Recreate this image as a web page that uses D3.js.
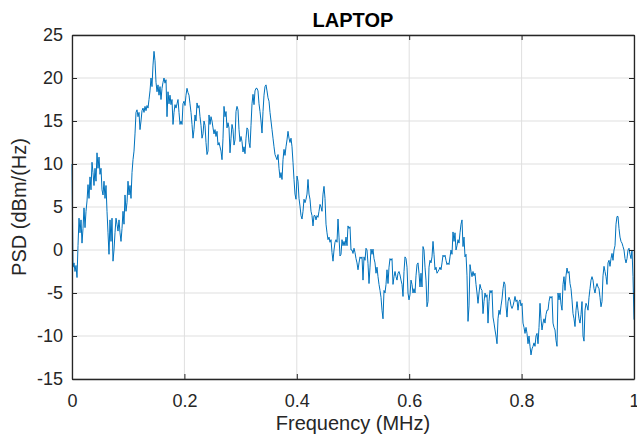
<!DOCTYPE html>
<html>
<head>
<meta charset="utf-8">
<script src="https://cdn.jsdelivr.net/npm/d3@7"></script>
<style>
  html, body { margin: 0; padding: 0; background: #fff; }
  svg { display: block; font-family: "Liberation Sans", Arial, sans-serif; }
</style>
</head>
<body>
<div id="chart"></div>
<script>
// Spectrum of the LAPTOP capture, evenly spaced bins from 0 to 1 MHz
const FREQ_START = 0;
const FREQ_END = 1;

const psd = [
  // 0 – 0.121
  10.0, -2.0, -1.5, -2.5, -1.8, -3.2, 0.5, 3.7, 2.0, 3.5, 0.8, 2.5, 4.9, 2.6, 4.5, 5.7, 7.6, 6.0, 8.5, 7.0,
  10.2, 9.0, 7.5, 9.5, 8.0, 11.3, 9.5, 10.8, 8.8, 9.5, 7.0, 6.4, 8.0, 6.0, 7.5, 4.5, 2.0, -0.5, 3.5, 1.0,
  3.7, -1.3, 0.0, 2.0, 3.7, 3.0, 2.2, 3.5, 2.0, 1.0, 2.5, 4.5, 3.0, 6.4, 4.5, 5.5, 8.0, 6.4, 7.5, 6.0,
  9.0, 10.5, 11.5, 13.5, 16.0, 16.3, 15.5, 16.0, 14.0,
  // 0.123 – 0.246
  15.0, 16.2, 16.5, 16.0, 16.7, 16.2, 16.8, 16.5, 17.5, 18.5, 20.0, 19.0, 21.5, 23.1, 22.0, 19.5, 18.4, 19.2, 18.0, 19.0,
  17.5, 18.8, 19.5, 20.0, 19.4, 19.8, 15.5, 18.4, 17.0, 18.0, 16.9, 17.5, 14.6, 16.0, 16.9, 16.5, 17.0, 17.5, 16.0, 14.6,
  15.0, 14.6, 17.0, 17.3, 16.8, 18.0, 18.8, 18.3, 18.0, 17.0, 16.0, 14.6, 13.0, 14.0, 15.7, 15.0, 17.1, 16.5, 16.8, 15.5,
  14.5, 13.0, 13.5, 15.0, 14.5, 12.5, 11.1, 11.5, 15.7, 14.6,
  // 0.247 – 0.370
  15.5, 15.0, 14.2, 13.5, 14.0, 13.2, 13.8, 12.2, 12.5, 12.0, 11.5, 10.5, 13.0, 16.7, 15.5, 16.1, 14.2, 14.8, 14.2, 11.3,
  13.0, 14.6, 14.0, 12.2, 12.8, 16.1, 16.7, 16.3, 14.0, 12.6, 13.2, 12.6, 11.4, 12.0, 11.2, 13.0, 14.2, 14.0, 12.5, 11.9,
  14.5, 17.0, 18.1, 16.9, 18.5, 18.8, 18.8, 18.5, 17.0, 16.1, 15.0, 13.6, 16.1, 18.0, 19.0, 19.2, 18.5, 17.7, 17.3, 16.0,
  15.0, 14.0, 13.0, 12.0, 11.1, 10.8, 10.5, 11.1, 9.5, 8.4,
  // 0.372 – 0.495
  9.0, 8.2, 10.5, 11.7, 11.0, 12.0, 12.8, 13.8, 13.0, 12.5, 13.0, 12.0, 10.2, 8.2, 6.5, 5.9, 8.6, 8.0, 6.0, 5.1,
  4.0, 3.6, 4.5, 5.9, 5.5, 5.9, 6.5, 8.2, 6.5, 5.9, 4.5, 4.0, 2.8, 4.0, 4.0, 3.5, 4.0, 3.8, 4.5, 5.3,
  5.0, 4.5, 6.5, 7.4, 6.0, 3.0, 2.0, 1.2, 1.5, 0.9, 1.2, -0.3, -1.3, 0.0, 0.9, 1.2, 0.9, 3.6, 1.5, -0.7,
  -0.5, 1.2, 0.5, 1.0, 0.5, 1.5, 0.5, 2.8, 2.5, 2.7,
  // 0.496 – 0.619
  0.0, 0.0, -0.4, 0.2, -0.3, -1.0, -1.5, -2.3, -1.5, -0.8, -1.0, -0.8, -3.5, -0.8, -1.2, 0.2, 0.0, -1.6, -3.9, -2.0,
  0.1, -0.5, 0.1, -1.0, -1.5, -2.7, -2.0, -3.1, -4.0, -4.7, -5.5, -7.0, -8.0, -4.7, -5.0, -4.0, -2.3, -3.9, -2.0, -1.0,
  -1.2, -1.0, -4.0, -3.1, -2.5, -3.1, -3.5, -2.7, -2.5, -2.9, -3.5, -4.0, -5.4, -2.5, -0.8, -1.0, -2.0, -5.0, -5.8, -5.2,
  -3.5, -4.0, -5.0, -4.5, -5.0, -3.0, -1.7, -1.5, -2.7, -4.3,
  // 0.621 – 0.744
  -2.7, -4.3, 0.4, 0.0, -2.0, -3.5, -6.6, -6.0, -2.0, -1.2, -1.5, -0.8, 1.0, -0.5, -2.3, -2.0, -2.7, -2.5, -2.3, -2.0,
  -2.3, -1.5, -0.6, -0.8, -0.6, -1.2, -1.7, -1.5, -1.7, -0.8, 0.0, -0.5, 2.1, 1.0, 2.0, 0.0, 0.5, 1.2, 0.8, 2.0,
  3.0, 3.5, 0.4, 1.5, -0.8, -0.5, -3.0, -8.3, -6.5, -1.7, -2.5, -3.1, -2.5, -3.0, -2.7, -4.0, -5.0, -6.2, -5.0, -4.0,
  -4.5, -4.7, -7.4, -6.0, -5.0, -5.5, -5.2, -8.5, -6.0, -4.7,
  // 0.746 – 0.868
  -5.0, -4.7, -7.8, -8.5, -9.3, -10.0, -10.9, -8.0, -7.0, -7.5, -6.5, -5.7, -4.5, -3.7, -4.0, -6.5, -7.8, -6.0, -5.5, -5.8,
  -6.5, -6.8, -6.5, -6.0, -5.4, -6.0, -5.8, -7.0, -6.0, -5.8, -6.5, -6.2, -8.5, -9.0, -9.7, -9.0, -9.7, -10.9, -10.0, -11.2,
  -12.2, -11.5, -11.2, -10.8, -11.2, -10.0, -9.7, -10.9, -9.0, -6.2, -8.0, -9.3, -8.5, -8.0, -8.5, -7.5, -7.0, -7.0, -6.0, -5.4,
  -5.6, -5.4, -8.5, -9.0, -9.3, -10.5, -11.2, -5.0, -5.8, -5.0,
  // 0.870 – 1
  -6.3, -7.0, -4.0, -3.1, -4.7, -3.0, -2.1, -2.7, -2.5, -3.9, -4.5, -5.8, -7.4, -8.0, -8.9, -7.0, -6.0, -7.0, -8.0, -8.5,
  -7.5, -6.0, -10.0, -10.6, -7.0, -6.2, -6.5, -7.0, -5.5, -4.5, -3.5, -3.1, -3.5, -4.5, -5.0, -4.3, -3.9, -4.3, -4.5, -5.5,
  -6.6, -6.0, -3.0, -1.9, -2.5, -3.1, -4.0, -1.5, -1.2, -1.9, -1.0, -0.4, -1.2, 0.0, 0.5, 3.0, 3.9, 3.9, 2.5, 1.5,
  1.0, 0.8, 0.4, 0.0, -1.0, -1.5, -1.0, 0.0, 0.2, -0.5, -1.0, 0.0, -3.1, -8.1
];

const xTicks = [0, 0.2, 0.4, 0.6, 0.8, 1];
const yTicks = [-15, -10, -5, 0, 5, 10, 15, 20, 25];

const freq = d3.range(psd.length).map(i => FREQ_START + (FREQ_END - FREQ_START) * i / (psd.length - 1));
const data = freq.map((f, i) => ({ f, v: psd[i] }));

const width = 637, height = 438;
const margin = { top: 35, right: 3, bottom: 59, left: 72 };
const axisColor = '#262626';

const svg = d3.select('#chart').append('svg')
  .attr('width', width)
  .attr('height', height);

const x = d3.scaleLinear().domain([FREQ_START, FREQ_END]).range([margin.left, width - margin.right]);
const y = d3.scaleLinear().domain([-15, 25]).range([height - margin.bottom, margin.top]);

// grid
svg.append('g')
  .selectAll('line')
  .data(xTicks)
  .join('line')
  .attr('x1', d => x(d)).attr('x2', d => x(d))
  .attr('y1', y.range()[1]).attr('y2', y.range()[0])
  .attr('stroke', '#dfdfdf')
  .attr('stroke-width', 1);

svg.append('g')
  .selectAll('line')
  .data(yTicks)
  .join('line')
  .attr('x1', x.range()[0]).attr('x2', x.range()[1])
  .attr('y1', d => y(d)).attr('y2', d => y(d))
  .attr('stroke', '#dfdfdf')
  .attr('stroke-width', 1);

// psd trace
const line = d3.line()
  .x(d => x(d.f))
  .y(d => y(d.v));

svg.append('path')
  .datum(data)
  .attr('fill', 'none')
  .attr('stroke', '#0072BD')
  .attr('stroke-width', 1)
  .attr('stroke-linejoin', 'round')
  .attr('d', line);

// axes (box with inward ticks), plain hyphen for negatives like matlab
const tickLen = 5;
const fontSize = 18;
const plain = d => String(d);

const axBottom = svg.append('g')
  .attr('transform', `translate(0,${y.range()[0]})`)
  .call(d3.axisBottom(x).tickValues(xTicks).tickSizeInner(-tickLen).tickSizeOuter(0).tickPadding(15).tickFormat(plain));
const axLeft = svg.append('g')
  .attr('transform', `translate(${x.range()[0]},0)`)
  .call(d3.axisLeft(y).tickValues(yTicks).tickSizeInner(-tickLen).tickSizeOuter(0).tickPadding(9).tickFormat(plain));
const axTop = svg.append('g')
  .attr('transform', `translate(0,${y.range()[1]})`)
  .call(d3.axisTop(x).tickValues(xTicks).tickSizeInner(-tickLen).tickSizeOuter(0).tickFormat(''));
const axRight = svg.append('g')
  .attr('transform', `translate(${x.range()[1]},0)`)
  .call(d3.axisRight(y).tickValues(yTicks).tickSizeInner(-tickLen).tickSizeOuter(0).tickFormat(''));

[axBottom, axLeft, axTop, axRight].forEach(g => {
  g.select('.domain').attr('stroke', axisColor).attr('stroke-width', 1.3);
  g.selectAll('.tick line').attr('stroke', axisColor).attr('stroke-width', 1);
  g.selectAll('.tick text')
    .attr('fill', axisColor)
    .style('font-family', '"Liberation Sans", Arial, sans-serif')
    .style('font-size', fontSize + 'px');
});

// labels
svg.append('text')
  .attr('x', (x.range()[0] + x.range()[1]) / 2)
  .attr('y', 27)
  .attr('text-anchor', 'middle')
  .attr('fill', '#000')
  .style('font-weight', 'bold')
  .style('font-size', '20px')
  .text('LAPTOP');

svg.append('text')
  .attr('x', (x.range()[0] + x.range()[1]) / 2)
  .attr('y', 430)
  .attr('text-anchor', 'middle')
  .attr('fill', axisColor)
  .style('font-size', '20px')
  .text('Frequency (MHz)');

svg.append('text')
  .attr('transform', `translate(26,${(y.range()[0] + y.range()[1]) / 2}) rotate(-90)`)
  .attr('text-anchor', 'middle')
  .attr('fill', axisColor)
  .style('font-size', '20px')
  .text('PSD (dBm/(Hz)');
</script>
</body>
</html>
